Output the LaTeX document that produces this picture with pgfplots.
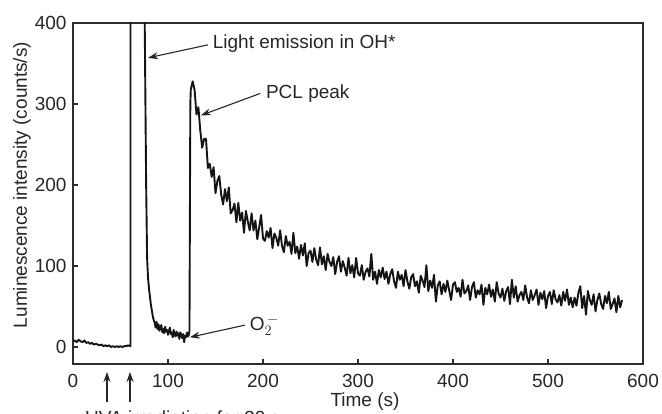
\documentclass[border=0pt]{standalone}
\usepackage{fontspec}
\setmainfont{Liberation Sans}
\usepackage{pgfplots}
\pgfplotsset{compat=1.18}
\usetikzlibrary{arrows.meta}
\definecolor{axgray}{RGB}{45,45,45}
\definecolor{trace}{RGB}{20,20,20}
\begin{document}
\begin{tikzpicture}
\fontsize{19bp}{23bp}\selectfont
\begin{axis}[
  at={(73bp,50bp)}, anchor=south west,
  width=570bp, height=341bp, scale only axis,
  xmin=0, xmax=600, ymin=-21, ymax=400,
  xtick={0,100,200,300,400,500,600},
  ytick={0,100,200,300,400},
  xtick pos=left, ytick pos=left,
  tick align=inside,
  major tick length=5bp,
  axis line style={axgray, line width=1.3bp},
  every tick/.style={axgray, line width=1.2bp},
  /pgf/number format/assume math mode=true,
  tick label style={font=\fontsize{19bp}{22bp}\selectfont, text=black!85},
  xticklabel style={yshift=-4bp},
  clip mode=individual,
]
\addplot[trace, line width=1.9bp, line join=round] coordinates {
(0,7)(2,8)(4,6)(6,9)(8,7)(10,6)(12,8)(14,5)(16,6)(18,4)(20,5)(22,3)(24,4)(26,3)(28,2)(30,3)(32,1)(34,2)(36,1)(38,2)(40,0)(42,1)(44,0)(46,1)(48,0)(50,1)(52,0)(54,1)(56,1)(58,2)(60.5,1)
(60.5,1000)(75,1000)
(75.5,400)(77,200)(78,110)(79,85)(80,72)(81,62)(82,52)(83,45)(84,38)(85,33)(86,30)(87,24)(88,31)(89,22)(90,28)(91,20)(92,25)(93,27)(94,18)(95,22)(96,17)(97,25)(98,19)(99,21)(100,15)(101,20)(102,24)(103,16)(104,18)(105,12)(106,21)(107,15)(108,13)(109,19)(110,14)(111,17)(112,10)(113,18)(114,15)(115,11)(116,16)(117,6)(118,14)(119,12)(120,18)(121,13)(122,15)
(122.6,20)(123.5,300)(124,318)(126,328)(128,317)(130,287)(132,296)(134,267)(136,246)(138,257)(140,257)(142,221)(144,226)(146,210)(148,222)(150,190)
(152,205)(154,211)(156,188)(158,176)(160,195)(162,180)(164,197)(166,165)(168,169)(170,177)(172,154)(174,178)(176,156)(178,166)(180,141)(182,168)(184,155)(186,144)(188,165)(190,144)(192,156)(194,133)(196,148)(198,163)(200,134)
(202,131)(204,143)(206,135)(208,147)(210,122)(212,140)(214,135)(216,125)(218,144)(220,125)(222,117)(224,137)(226,125)(228,130)(230,115)(232,141)(234,116)(236,124)(238,109)(240,126)(242,113)(244,128)(246,100)(248,116)(250,119)
(252,105)(254,122)(256,108)(258,101)(260,123)(262,102)(264,112)(266,95)(268,115)(270,105)(272,100)(274,111)(276,90)(278,105)(280,112)(282,93)(284,106)(286,98)(288,88)(290,110)(292,91)(294,101)(296,86)(298,110)(300,91)
(302,88)(304,101)(306,83)(308,93)(310,97)(312,87)(314,115)(316,83)(318,93)(320,78)(322,95)(324,86)(326,98)(328,84)(330,93)(332,78)(334,90)(336,96)(338,81)(340,73)(342,93)(344,83)(346,89)(348,75)(350,95)(352,81)(354,72)(356,86)(358,90)(360,75)(362,81)(364,67)(366,88)(368,82)(370,74)(372,101)(374,69)(376,82)(378,73)(380,89)(382,56)(384,76)(386,81)(388,65)(390,78)(392,68)(394,82)(396,70)(398,58)
(400,77)(402,80)(404,68)(406,73)(408,62)(410,83)(412,66)(414,69)(416,76)(418,58)(420,74)(422,80)(424,61)(426,70)(428,65)(430,77)(432,52)(434,73)(436,65)(438,77)(440,62)(442,71)(444,56)(446,80)(448,66)(450,61)(452,72)(454,57)(456,69)(458,74)(460,53)(462,83)(464,61)(466,75)(468,56)(470,64)(472,68)(474,58)(476,76)(478,61)(480,54)(482,70)(484,58)(486,64)(488,71)(490,52)(492,67)(494,59)(496,69)(498,48)
(500,63)(502,68)(504,53)(506,70)(508,59)(510,55)(512,64)(514,51)(516,68)(518,57)(520,71)(522,52)(524,61)(526,49)(528,61)(530,51)(532,67)(534,75)(536,48)(538,63)(540,40)(542,69)(544,58)(546,52)(548,65)(550,44)(552,58)(554,66)(556,53)(558,47)(560,63)(562,54)(564,68)(566,47)(568,53)(570,60)(572,43)(574,63)(576,49)(578,58)
};
% annotations
\draw[-{Stealth[length=10bp,width=7bp]}, line width=1.1bp, black!85] (axis cs:142,373) -- (axis cs:79,357);
\node[anchor=west, inner sep=0pt, text=black!85] at (axis cs:147,375) {Light emission in OH*};
\draw[-{Stealth[length=10bp,width=7bp]}, line width=1.1bp, black!85] (axis cs:197,313) -- (axis cs:134.7,286);
\node[anchor=west, inner sep=0pt, text=black!85] at (axis cs:203,313) {PCL peak};
\draw[-{Stealth[length=10bp,width=7bp]}, line width=1.1bp, black!85] (axis cs:181,27) -- (axis cs:123,12);
\node[anchor=west, inner sep=0pt, text=black!85] at (axis cs:186,27) {O$_2^{\,-}$};
\end{axis}
% outside annotations
\draw[-{Stealth[length=10bp,width=7bp]}, line width=1.3bp, black!85] (107bp,12bp) -- (107bp,42bp);
\draw[-{Stealth[length=10bp,width=7bp]}, line width=1.3bp, black!85] (130bp,12bp) -- (130bp,42bp);
\node[anchor=base west, inner sep=0pt, text=black!85] at (85bp,-10bp) {UVA irradiation for 30 s};
\node[text=black!85] at (365bp,12bp) {Time (s)};
\node[rotate=90, text=black!85] at (22bp,229bp) {Luminescence intensity (counts/s)};
\pgfresetboundingbox
\useasboundingbox (0,0) rectangle (662bp,414bp);
\end{tikzpicture}
\end{document}
